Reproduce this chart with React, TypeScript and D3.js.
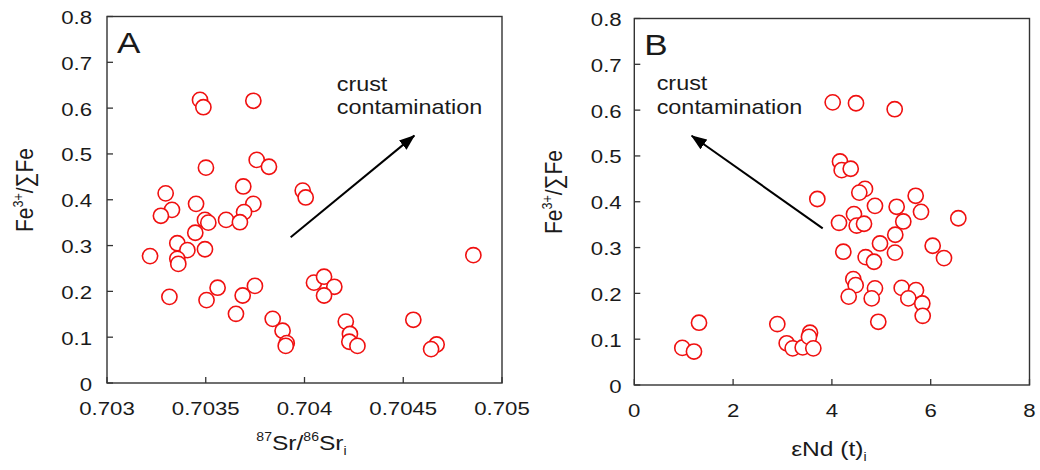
import React from 'react';
import * as d3 from 'd3';

// Panel A: 87Sr/86Sr_i vs Fe3+/ΣFe
const srValues = [
  0.703471, 0.703488, 0.703741, 0.703501, 0.703758, 0.70382, 0.70369, 0.703297,
  0.703991, 0.704006, 0.703451, 0.703741, 0.703329, 0.703273, 0.703694, 0.703496,
  0.703513, 0.703603, 0.703673, 0.703447, 0.703356, 0.703407, 0.703496, 0.703218,
  0.703356, 0.703361, 0.704855,
  0.703316, 0.703504, 0.70356, 0.703687, 0.703749, 0.703653, 0.704048, 0.704099,
  0.704151, 0.704099,
  0.703839, 0.703889, 0.70391, 0.703905, 0.704209, 0.70423, 0.704227, 0.704268,
  0.704551, 0.704669, 0.704641,
];
const feValuesA = [
  0.618, 0.602, 0.616, 0.47, 0.487, 0.472, 0.429, 0.414,
  0.42, 0.405, 0.391, 0.391, 0.378, 0.365, 0.373, 0.356,
  0.35, 0.356, 0.351, 0.328, 0.305, 0.29, 0.292, 0.277,
  0.271, 0.26, 0.279,
  0.188, 0.181, 0.208, 0.191, 0.212, 0.151, 0.219, 0.232,
  0.21, 0.191,
  0.14, 0.114, 0.087, 0.081, 0.134, 0.107, 0.09, 0.081,
  0.138, 0.084, 0.074,
];

// Panel B: εNd(t)_i vs Fe3+/ΣFe
const ndValues = [
  4.016, 4.488, 5.271, 4.164, 4.198, 4.381, 3.705, 4.67, 4.555, 5.696,
  4.872, 5.311, 5.804, 6.559, 5.445, 4.144, 4.447, 4.502, 4.65, 5.283,
  4.974, 6.04, 6.269, 4.231, 5.277, 4.684, 4.852,
  4.433, 4.481, 4.872, 4.34, 4.806, 5.413, 5.702, 5.547, 5.83, 5.838, 4.939,
  1.31, 0.972, 1.208, 2.895, 3.085, 3.206, 3.409, 3.557, 3.536, 3.624,
];
const feValuesB = [
  0.617, 0.615, 0.602, 0.488, 0.469, 0.472, 0.406, 0.428, 0.42, 0.413,
  0.391, 0.389, 0.378, 0.364, 0.357, 0.354, 0.373, 0.348, 0.352, 0.328,
  0.309, 0.304, 0.277, 0.291, 0.289, 0.279, 0.269,
  0.231, 0.218, 0.211, 0.193, 0.189, 0.212, 0.207, 0.189, 0.178, 0.151, 0.138,
  0.136, 0.081, 0.073, 0.133, 0.091, 0.08, 0.082, 0.114, 0.105, 0.08,
];

const srTicks = [0.703, 0.7035, 0.704, 0.7045, 0.705];
const ndTicks = [0, 2, 4, 6, 8];
const feTicks = [0, 0.1, 0.2, 0.3, 0.4, 0.5, 0.6, 0.7, 0.8];

// arrows [x0, y0, x1(tip), y1(tip)] in data units
const arrowA = [0.70393, 0.318, 0.704556, 0.54];
const arrowB = [3.814, 0.342, 1.162, 0.544];

const FONT = '"Liberation Sans", Arial, sans-serif';
const SX = 1.17;
const RED = '#f01010';
const INK = '#1a1a1a';

type PanelProps = {
  left: number; right: number; top: number; bottom: number;
  xDomain: [number, number]; xTicks: number[]; xFmt: (v: number) => string;
  xs: number[]; ys: number[]; arrow: number[];
  letter: string; textX: number; textY1: number; textY2: number;
  xTitle: React.ReactNode; yTitleX: number; yTitleY: number; xTitleY: number;
  yLabelGap: number; xLabelGap: number; id: string;
};

function T(props: { x: number; y: number; size: number; anchor?: string; rotate?: boolean; children: React.ReactNode; fill?: string }) {
  const { x, y, size, anchor = 'start', rotate, children, fill = INK } = props;
  return (
    <text
      transform={`translate(${x},${y}) scale(${SX},1)${rotate ? ' rotate(-90)' : ''}`}
      textAnchor={anchor}
      fontSize={size}
      fontFamily={FONT}
      fill={fill}
    >
      {children}
    </text>
  );
}

function Panel(p: PanelProps) {
  const x = d3.scaleLinear().domain(p.xDomain).range([p.left, p.right]);
  const y = d3.scaleLinear().domain([0, 0.8]).range([p.bottom, p.top]);
  const tickLen = 6;
  const yFmt = (v: number) => (v === 0 ? '0' : d3.format('.1f')(v));
  return (
    <g>
      {feTicks.map((t) => (
        <g key={'y' + t}>
          <line x1={p.left} x2={p.left + tickLen} y1={y(t)} y2={y(t)} stroke="#333" strokeWidth={1.3} />
          <T x={p.left - p.yLabelGap} y={y(t) + 7.5} size={19} anchor="end">{yFmt(t)}</T>
        </g>
      ))}
      {p.xTicks.map((t) => (
        <g key={'x' + t}>
          <line x1={x(t)} x2={x(t)} y1={p.bottom} y2={p.bottom - tickLen} stroke="#333" strokeWidth={1.3} />
          <T x={x(t)} y={p.bottom + p.xLabelGap} size={19} anchor="middle">{p.xFmt(t)}</T>
        </g>
      ))}
      <rect x={p.left} y={p.top} width={p.right - p.left} height={p.bottom - p.top} fill="none" stroke="#333" strokeWidth={1.4} />
      {p.xs.map((v, i) => (
        <circle key={i} cx={x(v)} cy={y(p.ys[i])} r={7.6} fill="#fff" stroke={RED} strokeWidth={1.6} />
      ))}
      <line
        x1={x(p.arrow[0])} y1={y(p.arrow[1])} x2={x(p.arrow[2])} y2={y(p.arrow[3])}
        stroke="#000" strokeWidth={2} markerEnd={`url(#${p.id})`}
      />
      <T x={x(p.textX)} y={y(p.textY1)} size={20}>crust</T>
      <T x={x(p.textX)} y={y(p.textY2)} size={20}>contamination</T>
      <T x={p.left + 10} y={p.top + 36} size={30}>{p.letter}</T>
      <T x={p.yTitleX} y={p.yTitleY} size={21} anchor="middle" rotate>
        Fe<tspan fontSize={12.5} dy={-8.5}>3+</tspan><tspan dy={8.5}>/∑Fe</tspan>
      </T>
      <T x={(p.left + p.right) / 2 - 3} y={p.xTitleY} size={21} anchor="middle">{p.xTitle}</T>
    </g>
  );
}

export default function App() {
  return (
    <svg width={1040} height={470} style={{ position: 'absolute', left: 0, top: 0, background: '#fff' }}>
      <defs>
        {['arrA', 'arrB'].map((id) => (
          <marker key={id} id={id} viewBox="0 0 16 12" refX={15} refY={6} markerWidth={16} markerHeight={12}
            markerUnits="userSpaceOnUse" orient="auto">
            <path d="M0,0 L16,6 L0,12 Z" fill="#000" />
          </marker>
        ))}
      </defs>
      <Panel
        id="arrA" left={107} right={502} top={16.5} bottom={383}
        xDomain={[0.703, 0.705]} xTicks={srTicks} xFmt={(v) => d3.format('')(+v.toFixed(4))}
        xs={srValues} ys={feValuesA} arrow={arrowA} letter="A"
        textX={0.704163} textY1={0.638} textY2={0.587}
        xTitle={<><tspan fontSize={12} dy={-9}>87</tspan><tspan dy={9}>Sr/</tspan><tspan fontSize={12} dy={-9}>86</tspan><tspan dy={9}>Sr</tspan><tspan fontSize={12} dy={5}>i</tspan></>}
        yTitleX={33} yTitleY={190} xTitleY={450} yLabelGap={15} xLabelGap={31.5}
      />
      <Panel
        id="arrB" left={634.3} right={1029.5} top={18.5} bottom={385}
        xDomain={[0, 8]} xTicks={ndTicks} xFmt={(v) => String(v)}
        xs={ndValues} ys={feValuesB} arrow={arrowB} letter="B"
        textX={0.453} textY1={0.644} textY2={0.591}
        xTitle={<>εNd (t)<tspan fontSize={12} dy={5}>i</tspan></>}
        yTitleX={562} yTitleY={192} xTitleY={456} yLabelGap={12.6} xLabelGap={32}
      />
    </svg>
  );
}
